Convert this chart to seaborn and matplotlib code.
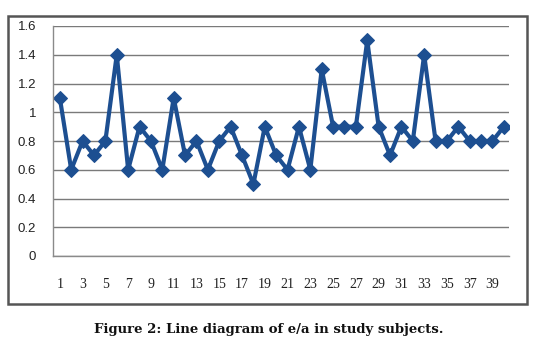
import matplotlib
matplotlib.use("Agg")
import matplotlib.pyplot as plt
import seaborn as sns
import pandas as pd
from matplotlib.patches import Rectangle
from matplotlib.ticker import FixedLocator

subjects = list(range(1, 41))
ea_ratio = [1.1, 0.6, 0.8, 0.7, 0.8, 1.4, 0.6, 0.9, 0.8, 0.6,
            1.1, 0.7, 0.8, 0.6, 0.8, 0.9, 0.7, 0.5, 0.9, 0.7,
            0.6, 0.9, 0.6, 1.3, 0.9, 0.9, 0.9, 1.5, 0.9, 0.7,
            0.9, 0.8, 1.4, 0.8, 0.8, 0.9, 0.8, 0.8, 0.8, 0.9]
x_tick_labels = [str(i) for i in range(1, 40, 2)]
y_ticks = [0, 0.2, 0.4, 0.6, 0.8, 1.0, 1.2, 1.4, 1.6]
y_tick_labels = ["0", "0.2", "0.4", "0.6", "0.8", "1", "1.2", "1.4", "1.6"]
caption = "Figure 2: Line diagram of e/a in study subjects."

df = pd.DataFrame({"subject": subjects, "ea": ea_ratio})

sns.set_style("white")
W, H = 537, 354
fig = plt.figure(figsize=(W / 100, H / 100), dpi=100)
ax = fig.add_axes([53 / W, 1 - 256 / H, (509 - 53) / W, (256 - 26) / H])

line_color = "#1d4f91"
sns.lineplot(data=df, x="subject", y="ea", ax=ax, color=line_color,
             linewidth=3.0, marker="D", markersize=7.5,
             markeredgecolor=line_color, markerfacecolor=line_color)

ax.set_xlim(0.4, 40.45)
ax.set_ylim(0, 1.6)
ax.set_yticks(y_ticks)
ax.set_yticklabels(y_tick_labels)
ax.set_xticks(list(range(1, 40, 2)))
ax.set_xticklabels(x_tick_labels)
ax.xaxis.set_minor_locator(FixedLocator([i + 0.5 for i in range(0, 41)]))
ax.set_xlabel("")
ax.set_ylabel("")

ax.grid(axis="y", color="#7a7a7a", linewidth=1.0)
ax.set_axisbelow(True)
for s in ["top", "right"]:
    ax.spines[s].set_visible(False)
for s in ["left", "bottom"]:
    ax.spines[s].set_color("#8a8a8a")
    ax.spines[s].set_linewidth(1.0)

ax.tick_params(axis="y", which="major", length=4, color="#8a8a8a",
               labelsize=9.5, pad=8, labelcolor="#222222")
ax.tick_params(axis="x", which="major", length=0, pad=16,
               labelsize=10, labelcolor="#222222")
ax.tick_params(axis="x", which="minor", length=3, color="#8a8a8a",
               direction="out")
for lab in ax.get_xticklabels():
    lab.set_fontfamily("Liberation Serif")
for lab in ax.get_yticklabels():
    lab.set_fontfamily("Liberation Sans")

# outer chart frame
fig.patches.append(Rectangle((8 / W, 1 - 304 / H), (527 - 8) / W, (304 - 16) / H,
                             transform=fig.transFigure, fill=False,
                             edgecolor="#555555", linewidth=1.8))

fig.text(0.5, 1 - 330 / H, caption, ha="center", va="center",
         fontsize=9.5, fontweight="bold", family="DejaVu Serif", color="#111111")

fig.savefig("out.png", dpi=100)
